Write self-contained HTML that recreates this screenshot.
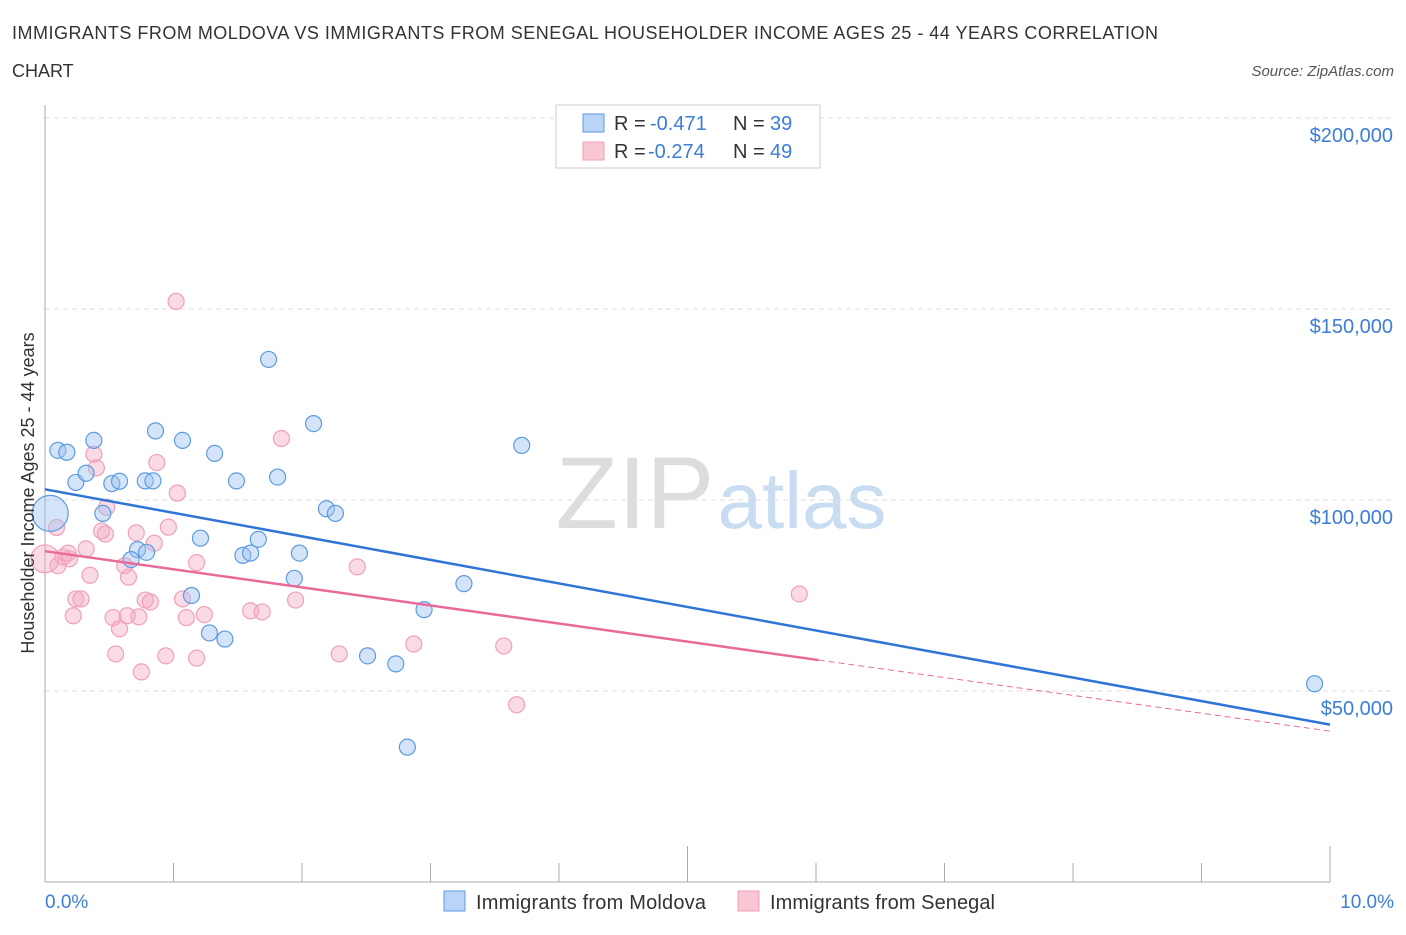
<!DOCTYPE html>
<html><head><meta charset="utf-8"><style>
body{margin:0;background:#fff;font-family:"Liberation Sans",sans-serif;}
svg text{font-family:"Liberation Sans",sans-serif;}
</style></head><body>
<svg id="c" width="1406" height="930">
<text x="12" y="39" font-size="18" fill="#333" textLength="1146">IMMIGRANTS FROM MOLDOVA VS IMMIGRANTS FROM SENEGAL HOUSEHOLDER INCOME AGES 25 - 44 YEARS CORRELATION</text>
<text x="12" y="77" font-size="18" fill="#333">CHART</text>
<text x="1394" y="76" font-size="15" fill="#555" font-style="italic" text-anchor="end">Source: ZipAtlas.com</text>
<text x="635" y="528" font-size="102" fill="#ddd" font-family="Liberation Serif" text-anchor="middle">ZIP</text>
<text x="802" y="528" font-size="80" fill="#c8dcf2" text-anchor="middle">atlas</text>
<g id="grid"></g><g id="axes"></g><g id="pts"></g><g id="lines"></g>
<text transform="translate(34,493) rotate(-90)" font-size="18" fill="#333" text-anchor="middle">Householder Income Ages 25 - 44 years</text>
<text x="45" y="908" font-size="19" fill="#3b7dd8">0.0%</text>
<text x="1394" y="908" font-size="19" fill="#3b7dd8" text-anchor="end">10.0%</text>
<g>
<rect x="556" y="105" width="264" height="63" fill="#fff" stroke="#ccc"/>
<rect x="583" y="114" width="21" height="18" fill="#b9d4f6" stroke="#5b9be0"/>
<rect x="583" y="142" width="21" height="18" fill="#f9c6d4" stroke="#f0a0b8"/>
<text x="614" y="130" font-size="20" fill="#333">R =</text><text x="650" y="130" font-size="20" fill="#3b7dd8">-0.471</text>
<text x="733" y="130" font-size="20" fill="#333">N =</text><text x="770" y="130" font-size="20" fill="#3b7dd8">39</text>
<text x="614" y="158" font-size="20" fill="#333">R =</text><text x="648" y="158" font-size="20" fill="#3b7dd8">-0.274</text>
<text x="733" y="158" font-size="20" fill="#333">N =</text><text x="770" y="158" font-size="20" fill="#3b7dd8">49</text>
</g>
<g>
<rect x="444" y="891" width="21" height="20" fill="#b9d4f6" stroke="#5b9be0"/>
<text x="476" y="909" font-size="20" fill="#333" textLength="230">Immigrants from Moldova</text>
<rect x="738" y="891" width="21" height="20" fill="#f9c6d4" stroke="#f0a0b8"/>
<text x="770" y="909" font-size="20" fill="#333" textLength="225">Immigrants from Senegal</text>
</g>
</svg>
<script>
const yTicks=[50000,100000,150000,200000];
const yTickLabels=["$50,000","$100,000","$150,000","$200,000"];
const xTicks=[0,1,2,3,4,5,6,7,8,9,10];
const moldovaX=[0.10,0.17,0.38,0.24,0.32,0.52,0.58,0.45,0.86,1.07,1.32,0.78,0.84,1.49,1.81,1.74,2.09,3.71,2.19,2.26,1.21,1.66,1.54,1.60,1.98,0.72,0.79,0.67,1.94,1.14,1.28,1.40,2.51,2.73,2.95,3.26,2.82,9.88,0.04];
const moldovaY=[113000,112500,115600,104600,107000,104300,104900,96500,118100,115600,112200,105000,105000,105000,106000,136800,120000,114300,97700,96500,90000,89700,85500,86100,86100,87000,86300,84400,79500,75000,65200,63600,59200,57100,71300,78100,35300,51900,96500];
const senegalX=[1.02,1.84,0.87,0.38,0.40,1.03,0.48,0.09,0.44,0.47,0.71,0.96,0.85,0.32,0.18,0.14,0.19,0.10,0.62,1.18,0.35,0.65,2.43,0.24,0.28,0.78,0.82,1.07,0.22,0.53,0.64,0.73,1.10,1.24,1.60,1.69,1.95,0.58,0.55,0.94,1.18,2.29,2.87,3.57,0.75,3.67,5.87,0.00];
const senegalY=[152000,116100,109800,112000,108400,101800,98100,92800,91900,91100,91400,92900,88700,87200,86100,85100,84600,82800,82800,83600,80300,79800,82500,74100,74100,73800,73300,74100,69700,69200,69700,69400,69200,70000,71000,70700,73800,66300,59700,59200,58600,59700,62300,61800,55000,46400,75400,84600];
const xs=v=>45+v*128.5, ys=v=>882-v*191/50000;
const NS="http://www.w3.org/2000/svg";
function mk(tag,at,parent){const e=document.createElementNS(NS,tag);for(const k in at)e.setAttribute(k,at[k]);document.getElementById(parent).appendChild(e);return e;}
yTicks.forEach((t,i)=>{
 const g=mk('line',{x1:45,x2:1394,y1:ys(t),y2:ys(t),stroke:'#ddd','stroke-dasharray':'5,4'},'grid');
 
 
 const l=mk('text',{x:1393,y:ys(t)+24,'font-size':20,fill:'#3b7dd8','text-anchor':'end'},'grid');
 l.textContent=yTickLabels[i];
 
 
});
const ya=mk('line',{x1:45,x2:45,y1:105,y2:882,stroke:'#aaa'},'axes');


const xa=mk('line',{x1:45,x2:1330,y1:882,y2:882,stroke:'#aaa'},'axes');


xTicks.forEach(t=>{
 const e=mk('line',{x1:xs(t),x2:xs(t),y1:882,y2:t%5==0&&t>0?846:863,stroke:'#aaa'},'axes');
 
 
});
function pts(X,Y,fill,stroke,name,bigR){X.forEach((x,i)=>{
 const r=(i==X.length-1)?bigR:8;
 const c=mk('circle',{cx:xs(x),cy:ys(Y[i]),r:r,fill:fill,stroke:stroke,'stroke-width':1.2},'pts');
 
 
});}
pts(senegalX,senegalY,'rgba(244,170,192,0.42)','#f0a0b8','senegal-point',14);
pts(moldovaX,moldovaY,'rgba(160,196,240,0.45)','#5b9be0','moldova-point',18);
const bl=mk('line',{x1:xs(0),y1:ys(102800),x2:xs(10),y2:ys(41200),stroke:'#2f74d6','stroke-width':2.5},'lines');


const pl=mk('line',{x1:xs(0),y1:ys(86600),x2:xs(6.02),y2:ys(58100),stroke:'#e8699a','stroke-width':2.5},'lines');


const pd=mk('line',{x1:xs(6.02),y1:ys(58100),x2:xs(10),y2:ys(39500),stroke:'#e8699a','stroke-width':1,'stroke-dasharray':'6,4'},'lines');


</script>
</body></html>
